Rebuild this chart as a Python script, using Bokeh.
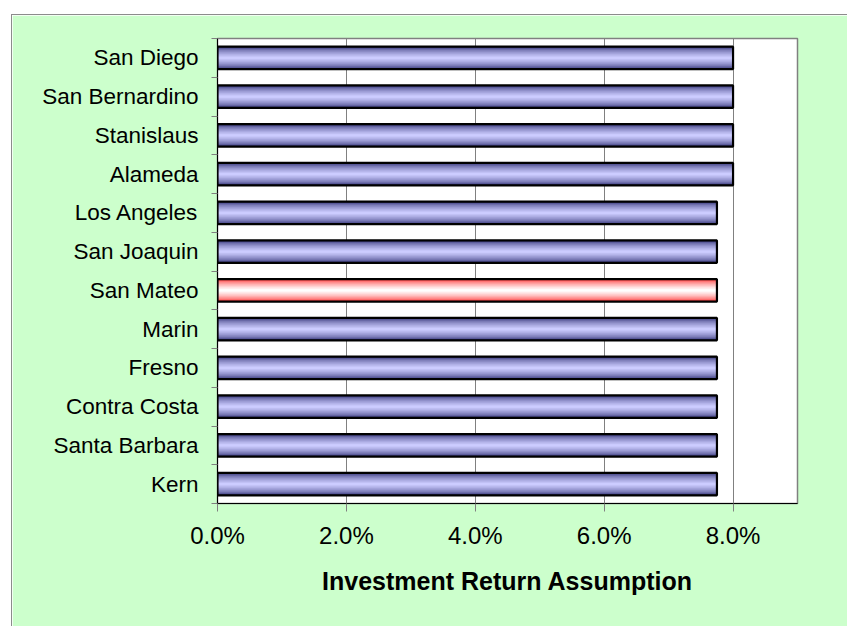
from bokeh.plotting import figure
from bokeh.models import Range1d, FixedTicker, NumeralTickFormatter, ColumnDataSource
from bokeh.embed import file_html
from bokeh.resources import INLINE

# ---- data (top to bottom as shown) ----
counties = ["San Diego", "San Bernardino", "Stanislaus", "Alameda", "Los Angeles",
            "San Joaquin", "San Mateo", "Marin", "Fresno", "Contra Costa",
            "Santa Barbara", "Kern"]
returns = [0.080, 0.080, 0.080, 0.080, 0.0775, 0.0775, 0.0775, 0.0775,
           0.0775, 0.0775, 0.0775, 0.0775]
highlight = ["San Mateo"]
x_ticks = [0.0, 0.02, 0.04, 0.06, 0.08]
x_max = 0.09
axis_title = "Investment Return Assumption"

# ---- styling ----
GREEN = "#CCFFCC"
FONT = "Liberation Sans"
BAR_H = 0.58
N_LAYERS = 10


def mix(c1, c2, t):
    a = [int(c1[i:i + 2], 16) for i in (1, 3, 5)]
    b = [int(c2[i:i + 2], 16) for i in (1, 3, 5)]
    return "#%02x%02x%02x" % tuple(round(a[j] + (b[j] - a[j]) * t) for j in range(3))


n = len(counties)
ypos = [n - i - 0.5 for i in range(n)]
is_hl = [c in highlight for c in counties]

p = figure(width=836, height=612, output_backend="svg", toolbar_location=None,
           x_range=Range1d(0, x_max), y_range=Range1d(0, n),
           min_border_left=205, min_border_top=23, min_border_right=51,
           min_border_bottom=124, margin=(14, 0, 0, 11),
           background_fill_color="white", border_fill_color=GREEN,
           outline_line_color="#808080", outline_line_width=1.5,
           styles={"border-left": "1px solid #8c8c8c", "border-top": "1px solid #8c8c8c"})

src = ColumnDataSource(dict(y=ypos, v=returns, name=counties))

# gradient bars: nested layers, dark at edges, light in the centre
for k in range(N_LAYERS):
    t = k / (N_LAYERS - 1)
    frac = 1.0 - 0.9 * t
    tt = min(1.0, t ** 0.6)
    cols = [mix("#FF2E2E", "#FFFFFF", tt) if h else mix("#2E2E72", "#CCCCFF", tt) for h in is_hl]
    src.data["c%d" % k] = cols
    p.hbar(y="y", right="v", left=0, height=BAR_H * frac, source=src,
           fill_color="c%d" % k, line_color=None)

p.hbar(y="y", right="v", left=0, height=BAR_H, source=src,
       fill_color=None, line_color="black", line_width=2.2)

# x axis
p.xaxis.ticker = FixedTicker(ticks=x_ticks)
p.xaxis.formatter = NumeralTickFormatter(format="0.0%")
p.xaxis.major_label_text_font = FONT
p.xaxis.major_label_text_font_size = "24px"
p.xaxis.major_label_text_color = "black"
p.xaxis.major_tick_out = 8
p.xaxis.major_tick_in = 0
p.xaxis.minor_tick_out = 0
p.xaxis.minor_tick_in = 0
p.xaxis.major_tick_line_color = "#808080"
p.xaxis.axis_line_color = "black"
p.xaxis.major_label_standoff = 10
p.xaxis.axis_label = axis_title
p.xaxis.axis_label_text_font = FONT
p.xaxis.axis_label_text_font_size = "25px"
p.xaxis.axis_label_text_font_style = "bold"
p.xaxis.axis_label_text_color = "black"
p.xaxis.axis_label_standoff = 15

# y axis: labels at bar centres, tick marks at category boundaries
p.yaxis.ticker = FixedTicker(ticks=ypos, minor_ticks=list(range(n + 1)))
p.yaxis.major_label_overrides = {y: c for y, c in zip(ypos, counties)}
p.yaxis.major_label_text_font = FONT
p.yaxis.major_label_text_font_size = "22.5px"
p.yaxis.major_label_text_color = "black"
p.yaxis.major_tick_out = 0
p.yaxis.major_tick_in = 0
p.yaxis.minor_tick_out = 6
p.yaxis.minor_tick_in = 0
p.yaxis.minor_tick_line_color = "#808080"
p.yaxis.axis_line_color = "black"
p.yaxis.major_label_standoff = 13

p.xgrid.ticker = FixedTicker(ticks=x_ticks)
p.xgrid.grid_line_color = "#808080"
p.xgrid.grid_line_width = 1
p.ygrid.grid_line_color = None

open("out.html", "w").write(file_html(p, INLINE))
